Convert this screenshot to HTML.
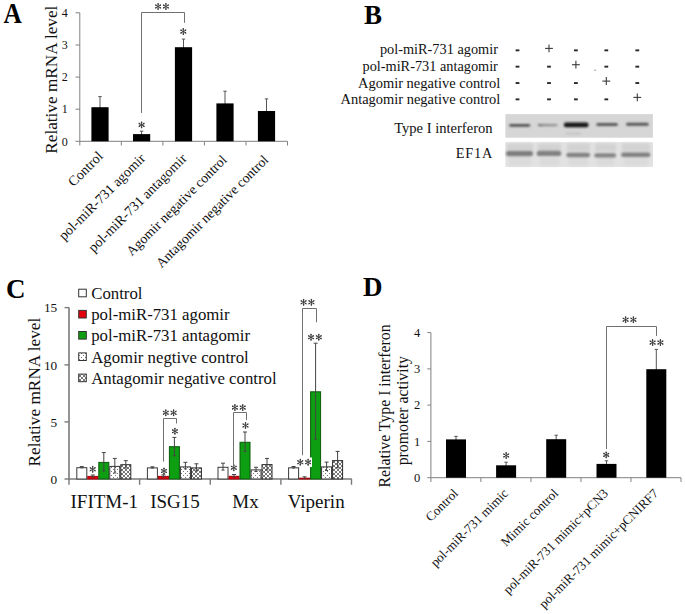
<!DOCTYPE html>
<html><head><meta charset="utf-8"><style>
html,body{margin:0;padding:0;background:#fff;}
svg{display:block;font-family:"Liberation Serif", serif;}
</style></head><body>
<svg width="685" height="614" viewBox="0 0 685 614">
<defs>
<linearGradient id="g2" x1="0" x2="1" y1="0" y2="0"><stop offset="0" stop-color="#6a6a6a"/><stop offset="0.35" stop-color="#8c8c8c"/><stop offset="1" stop-color="#959595"/></linearGradient>
<filter id="bl" x="-20%" y="-100%" width="140%" height="300%"><feGaussianBlur stdDeviation="0.9"/></filter>
<filter id="bl3" x="-20%" y="-100%" width="140%" height="300%"><feGaussianBlur stdDeviation="1.1"/></filter>
<filter id="bl2" x="-20%" y="-50%" width="140%" height="200%"><feGaussianBlur stdDeviation="1.5"/></filter>
<pattern id="dots" width="4" height="4" patternUnits="userSpaceOnUse">
<rect width="4" height="4" fill="#fff"/><rect x="1" y="1" width="1" height="1" fill="#777"/><rect x="3" y="3" width="1" height="1" fill="#777"/>
</pattern>
<pattern id="cross" width="4" height="4" patternUnits="userSpaceOnUse">
<rect width="4" height="4" fill="#fff"/><path d="M0,0 L4,4 M4,0 L0,4" stroke="#555" stroke-width="0.8"/>
</pattern>
</defs>
<rect width="685" height="614" fill="#fff"/>
<text transform="translate(3.6,22.7) scale(0.89,1)" font-size="28.5" font-weight="bold" fill="#000">A</text>
<line x1="79.8" y1="12.8" x2="79.8" y2="141.3" stroke="#808080" stroke-width="1"/>
<line x1="75.5" y1="141.3" x2="79.8" y2="141.3" stroke="#808080" stroke-width="1"/>
<text x="67.8" y="145.5" font-size="12" text-anchor="end" font-weight="normal" fill="#111" >0</text>
<line x1="75.5" y1="109.2" x2="79.8" y2="109.2" stroke="#808080" stroke-width="1"/>
<text x="67.8" y="113.4" font-size="12" text-anchor="end" font-weight="normal" fill="#111" >1</text>
<line x1="75.5" y1="77.1" x2="79.8" y2="77.1" stroke="#808080" stroke-width="1"/>
<text x="67.8" y="81.3" font-size="12" text-anchor="end" font-weight="normal" fill="#111" >2</text>
<line x1="75.5" y1="45.0" x2="79.8" y2="45.0" stroke="#808080" stroke-width="1"/>
<text x="67.8" y="49.2" font-size="12" text-anchor="end" font-weight="normal" fill="#111" >3</text>
<line x1="75.5" y1="12.8" x2="79.8" y2="12.8" stroke="#808080" stroke-width="1"/>
<text x="67.8" y="17.0" font-size="12" text-anchor="end" font-weight="normal" fill="#111" >4</text>
<line x1="79.8" y1="141.3" x2="287.5" y2="141.3" stroke="#808080" stroke-width="1"/>
<line x1="79.8" y1="141.3" x2="79.8" y2="145.5" stroke="#808080" stroke-width="1"/>
<line x1="121.34" y1="141.3" x2="121.34" y2="145.5" stroke="#808080" stroke-width="1"/>
<line x1="162.88" y1="141.3" x2="162.88" y2="145.5" stroke="#808080" stroke-width="1"/>
<line x1="204.42000000000002" y1="141.3" x2="204.42000000000002" y2="145.5" stroke="#808080" stroke-width="1"/>
<line x1="245.95999999999998" y1="141.3" x2="245.95999999999998" y2="145.5" stroke="#808080" stroke-width="1"/>
<line x1="287.5" y1="141.3" x2="287.5" y2="145.5" stroke="#808080" stroke-width="1"/>
<line x1="100.0" y1="96.6" x2="100.0" y2="108.2" stroke="#555" stroke-width="1"/>
<line x1="98.3" y1="96.6" x2="101.7" y2="96.6" stroke="#555" stroke-width="1"/>
<rect x="91.4" y="107.2" width="17.2" height="34.10000000000001" fill="#000" stroke="none" stroke-width="1"/>
<line x1="141.6" y1="131.2" x2="141.6" y2="135.1" stroke="#555" stroke-width="1"/>
<line x1="139.9" y1="131.2" x2="143.29999999999998" y2="131.2" stroke="#555" stroke-width="1"/>
<rect x="133.0" y="134.1" width="17.2" height="7.200000000000017" fill="#000" stroke="none" stroke-width="1"/>
<line x1="183.5" y1="39.1" x2="183.5" y2="48.2" stroke="#555" stroke-width="1"/>
<line x1="181.8" y1="39.1" x2="185.2" y2="39.1" stroke="#555" stroke-width="1"/>
<rect x="174.9" y="47.2" width="17.2" height="94.10000000000001" fill="#000" stroke="none" stroke-width="1"/>
<line x1="225.0" y1="91.2" x2="225.0" y2="104.4" stroke="#555" stroke-width="1"/>
<line x1="223.3" y1="91.2" x2="226.7" y2="91.2" stroke="#555" stroke-width="1"/>
<rect x="216.4" y="103.4" width="17.2" height="37.900000000000006" fill="#000" stroke="none" stroke-width="1"/>
<line x1="266.5" y1="98.9" x2="266.5" y2="112.0" stroke="#555" stroke-width="1"/>
<line x1="264.8" y1="98.9" x2="268.2" y2="98.9" stroke="#555" stroke-width="1"/>
<rect x="257.9" y="111.0" width="17.2" height="30.30000000000001" fill="#000" stroke="none" stroke-width="1"/>
<path d="M141.60,121.90L141.60,127.90M139.00,123.40L144.20,126.40M139.00,126.40L144.20,123.40" stroke="#383838" stroke-width="0.9" stroke-linecap="round" fill="none"/><circle cx="141.60" cy="127.36" r="0.8" fill="#383838"/><circle cx="141.60" cy="122.44" r="0.8" fill="#383838"/><circle cx="143.73" cy="126.13" r="0.8" fill="#383838"/><circle cx="139.47" cy="123.67" r="0.8" fill="#383838"/><circle cx="143.73" cy="123.67" r="0.8" fill="#383838"/><circle cx="139.47" cy="126.13" r="0.8" fill="#383838"/>
<path d="M183.30,28.60L183.30,34.60M180.70,30.10L185.90,33.10M180.70,33.10L185.90,30.10" stroke="#383838" stroke-width="0.9" stroke-linecap="round" fill="none"/><circle cx="183.30" cy="34.06" r="0.8" fill="#383838"/><circle cx="183.30" cy="29.14" r="0.8" fill="#383838"/><circle cx="185.43" cy="32.83" r="0.8" fill="#383838"/><circle cx="181.17" cy="30.37" r="0.8" fill="#383838"/><circle cx="185.43" cy="30.37" r="0.8" fill="#383838"/><circle cx="181.17" cy="32.83" r="0.8" fill="#383838"/>
<polyline points="141.5,113 141.5,12.5 184.5,12.5 184.5,22.8" fill="none" stroke="#707070" stroke-width="1"/>
<path d="M158.10,3.50L158.10,9.50M155.50,5.00L160.70,8.00M155.50,8.00L160.70,5.00" stroke="#383838" stroke-width="0.9" stroke-linecap="round" fill="none"/><circle cx="158.10" cy="8.96" r="0.8" fill="#383838"/><circle cx="158.10" cy="4.04" r="0.8" fill="#383838"/><circle cx="160.23" cy="7.73" r="0.8" fill="#383838"/><circle cx="155.97" cy="5.27" r="0.8" fill="#383838"/><circle cx="160.23" cy="5.27" r="0.8" fill="#383838"/><circle cx="155.97" cy="7.73" r="0.8" fill="#383838"/>
<path d="M165.90,3.50L165.90,9.50M163.30,5.00L168.50,8.00M163.30,8.00L168.50,5.00" stroke="#383838" stroke-width="0.9" stroke-linecap="round" fill="none"/><circle cx="165.90" cy="8.96" r="0.8" fill="#383838"/><circle cx="165.90" cy="4.04" r="0.8" fill="#383838"/><circle cx="168.03" cy="7.73" r="0.8" fill="#383838"/><circle cx="163.77" cy="5.27" r="0.8" fill="#383838"/><circle cx="168.03" cy="5.27" r="0.8" fill="#383838"/><circle cx="163.77" cy="7.73" r="0.8" fill="#383838"/>
<text transform="translate(103.81,157.10000000000002) rotate(-45)" font-size="14" text-anchor="end" fill="#111">Control</text>
<text transform="translate(146.01000000000002,159.3) rotate(-45)" font-size="14" text-anchor="end" fill="#111">pol-miR-731 agomir</text>
<text transform="translate(187.54999999999998,159.3) rotate(-45)" font-size="14" text-anchor="end" fill="#111">pol-miR-731 antagomir</text>
<text transform="translate(227.69,160.70000000000002) rotate(-45)" font-size="13.8" text-anchor="end" fill="#111">Agomir negative control</text>
<text transform="translate(269.23,160.70000000000002) rotate(-45)" font-size="13.8" text-anchor="end" fill="#111">Antagomir negative control</text>
<text transform="translate(57.0,79.7) rotate(-90)" font-size="17.2" text-anchor="middle" fill="#111">Relative mRNA level</text>
<text x="364" y="24.2" font-size="27" text-anchor="start" font-weight="bold" fill="#000" >B</text>
<text x="497.9" y="53.9" font-size="14.3" text-anchor="end" font-weight="normal" fill="#111" >pol-miR-731 agomir</text>
<text x="497.9" y="70.9" font-size="14.3" text-anchor="end" font-weight="normal" fill="#111" >pol-miR-731 antagomir</text>
<text x="500.2" y="87.5" font-size="14.3" text-anchor="end" font-weight="normal" fill="#111"  textLength="142.2" lengthAdjust="spacingAndGlyphs">Agomir negative control</text>
<text x="500.2" y="103.8" font-size="14.3" text-anchor="end" font-weight="normal" fill="#111"  textLength="159.7" lengthAdjust="spacingAndGlyphs">Antagomir negative control</text>
<rect x="515.6" y="49.4" width="3.8" height="1.9" fill="#2a2a2a" stroke="none" stroke-width="1"/>
<line x1="545.1" y1="48.4" x2="552.9" y2="48.4" stroke="#3a3a3a" stroke-width="1.1"/>
<line x1="549" y1="44.4" x2="549" y2="52.3" stroke="#3a3a3a" stroke-width="1.1"/>
<rect x="574.0" y="49.4" width="3.8" height="1.9" fill="#2a2a2a" stroke="none" stroke-width="1"/>
<rect x="604.4" y="49.4" width="3.8" height="1.9" fill="#2a2a2a" stroke="none" stroke-width="1"/>
<rect x="635.4" y="49.4" width="3.8" height="1.9" fill="#2a2a2a" stroke="none" stroke-width="1"/>
<rect x="515.6" y="65.7" width="3.8" height="1.9" fill="#2a2a2a" stroke="none" stroke-width="1"/>
<rect x="547.1" y="65.7" width="3.8" height="1.9" fill="#2a2a2a" stroke="none" stroke-width="1"/>
<line x1="572.0" y1="64.7" x2="579.8" y2="64.7" stroke="#3a3a3a" stroke-width="1.1"/>
<line x1="575.9" y1="60.7" x2="575.9" y2="68.60000000000001" stroke="#3a3a3a" stroke-width="1.1"/>
<rect x="604.4" y="65.7" width="3.8" height="1.9" fill="#2a2a2a" stroke="none" stroke-width="1"/>
<rect x="635.4" y="65.7" width="3.8" height="1.9" fill="#2a2a2a" stroke="none" stroke-width="1"/>
<rect x="515.6" y="82.1" width="3.8" height="1.9" fill="#2a2a2a" stroke="none" stroke-width="1"/>
<rect x="547.1" y="82.1" width="3.8" height="1.9" fill="#2a2a2a" stroke="none" stroke-width="1"/>
<rect x="574.0" y="82.1" width="3.8" height="1.9" fill="#2a2a2a" stroke="none" stroke-width="1"/>
<line x1="602.4" y1="81.1" x2="610.1999999999999" y2="81.1" stroke="#3a3a3a" stroke-width="1.1"/>
<line x1="606.3" y1="77.1" x2="606.3" y2="85.0" stroke="#3a3a3a" stroke-width="1.1"/>
<rect x="635.4" y="82.1" width="3.8" height="1.9" fill="#2a2a2a" stroke="none" stroke-width="1"/>
<rect x="515.6" y="98.4" width="3.8" height="1.9" fill="#2a2a2a" stroke="none" stroke-width="1"/>
<rect x="547.1" y="98.4" width="3.8" height="1.9" fill="#2a2a2a" stroke="none" stroke-width="1"/>
<rect x="574.0" y="98.4" width="3.8" height="1.9" fill="#2a2a2a" stroke="none" stroke-width="1"/>
<rect x="604.4" y="98.4" width="3.8" height="1.9" fill="#2a2a2a" stroke="none" stroke-width="1"/>
<line x1="633.4" y1="97.4" x2="641.1999999999999" y2="97.4" stroke="#3a3a3a" stroke-width="1.1"/>
<line x1="637.3" y1="93.4" x2="637.3" y2="101.30000000000001" stroke="#3a3a3a" stroke-width="1.1"/>
<rect x="594.5" y="69.6" width="1.2" height="1.2" fill="#777" stroke="none" stroke-width="1"/>
<rect x="505.4" y="114.1" width="147.5" height="23.6" fill="#d6d6d6" stroke="none" stroke-width="1"/>
<rect x="505.4" y="142.2" width="147.6" height="24.7" fill="#e2e2e2" stroke="none" stroke-width="1"/>
<rect x="507" y="143.5" width="26" height="8" fill="#d2d2d2" filter="url(#bl2)"/>
<rect x="509" y="157.5" width="22" height="8" fill="#dadada" filter="url(#bl2)"/>
<rect x="538" y="143.5" width="23" height="8" fill="#d2d2d2" filter="url(#bl2)"/>
<rect x="540" y="157.5" width="19" height="8" fill="#dadada" filter="url(#bl2)"/>
<rect x="567" y="143.5" width="23" height="8" fill="#d2d2d2" filter="url(#bl2)"/>
<rect x="569" y="157.5" width="19" height="8" fill="#dadada" filter="url(#bl2)"/>
<rect x="595" y="143.5" width="21" height="8" fill="#d2d2d2" filter="url(#bl2)"/>
<rect x="597" y="157.5" width="17" height="8" fill="#dadada" filter="url(#bl2)"/>
<rect x="622" y="143.5" width="28" height="8" fill="#d2d2d2" filter="url(#bl2)"/>
<rect x="624" y="157.5" width="24" height="8" fill="#dadada" filter="url(#bl2)"/>
<rect x="509.2" y="123.89999999999999" width="21.000000000000057" height="2.8" rx="1.4" fill="#505050" filter="url(#bl)"/>
<rect x="537.8" y="123.94999999999999" width="19.800000000000068" height="2.3" rx="1.15" fill="url(#g2)" filter="url(#bl)"/>
<rect x="563.8" y="122.60000000000001" width="24.800000000000068" height="4.6" rx="2.3" fill="#161616" filter="url(#bl)"/>
<rect x="596.3" y="123.1" width="21.600000000000023" height="3.0" rx="1.5" fill="#585858" filter="url(#bl)"/>
<rect x="626.0" y="122.8" width="22.700000000000045" height="3.0" rx="1.5" fill="#555555" filter="url(#bl)"/>
<rect x="566" y="132.5" width="15" height="2" fill="#c4c4c4" filter="url(#bl)"/>
<rect x="506.0" y="150.9" width="27.0" height="5.4" rx="2.7" fill="#7c7c7c" filter="url(#bl3)"/>
<rect x="536.7" y="150.8" width="24.5" height="5.2" rx="2.6" fill="#808080" filter="url(#bl3)"/>
<rect x="566.3" y="152.7" width="23.800000000000068" height="4.6" rx="2.3" fill="#808080" filter="url(#bl3)"/>
<rect x="594.3" y="153.20000000000002" width="21.800000000000068" height="4.4" rx="2.2" fill="#838383" filter="url(#bl3)"/>
<rect x="621.0" y="152.39999999999998" width="29.399999999999977" height="4.6" rx="2.3" fill="#808080" filter="url(#bl3)"/>
<text x="492.6" y="132.9" font-size="14.6" text-anchor="end" font-weight="normal" fill="#111"  textLength="98.4" lengthAdjust="spacingAndGlyphs">Type I interferon</text>
<text x="492.4" y="157.9" font-size="14.3" text-anchor="end" font-weight="normal" fill="#111"  textLength="36.6" lengthAdjust="spacing">EF1A</text>
<text x="6" y="297.7" font-size="27" text-anchor="start" font-weight="bold" fill="#000" >C</text>
<line x1="69.0" y1="307.6" x2="69.0" y2="479.8" stroke="#7a7a7a" stroke-width="1.6"/>
<line x1="64.5" y1="479.0" x2="69.0" y2="479.0" stroke="#7a7a7a" stroke-width="1.4"/>
<text x="57.2" y="483.6" font-size="13.3" text-anchor="end" font-weight="normal" fill="#111" >0</text>
<line x1="64.5" y1="421.9" x2="69.0" y2="421.9" stroke="#7a7a7a" stroke-width="1.4"/>
<text x="57.2" y="426.5" font-size="13.3" text-anchor="end" font-weight="normal" fill="#111" >5</text>
<line x1="64.5" y1="364.9" x2="69.0" y2="364.9" stroke="#7a7a7a" stroke-width="1.4"/>
<text x="57.2" y="369.5" font-size="13.3" text-anchor="end" font-weight="normal" fill="#111" >10</text>
<line x1="64.5" y1="307.6" x2="69.0" y2="307.6" stroke="#7a7a7a" stroke-width="1.4"/>
<text x="57.2" y="312.20000000000005" font-size="13.3" text-anchor="end" font-weight="normal" fill="#111" >15</text>
<line x1="69.0" y1="479.0" x2="351.8" y2="479.0" stroke="#7a7a7a" stroke-width="1.6"/>
<line x1="69.0" y1="479.0" x2="69.0" y2="484.8" stroke="#7a7a7a" stroke-width="1.4"/>
<line x1="139.625" y1="479.0" x2="139.625" y2="484.8" stroke="#7a7a7a" stroke-width="1.4"/>
<line x1="210.25" y1="479.0" x2="210.25" y2="484.8" stroke="#7a7a7a" stroke-width="1.4"/>
<line x1="280.875" y1="479.0" x2="280.875" y2="484.8" stroke="#7a7a7a" stroke-width="1.4"/>
<line x1="351.5" y1="479.0" x2="351.5" y2="484.8" stroke="#7a7a7a" stroke-width="1.4"/>
<text transform="translate(40.2,392.1) rotate(-90)" font-size="17.3" text-anchor="middle" fill="#111">Relative mRNA level</text>
<rect x="76.8" y="467.7" width="10" height="11.300000000000011" fill="#fff" stroke="#3a3a3a" stroke-width="1"/>
<line x1="81.8" y1="466.6" x2="81.8" y2="467.8" stroke="#444" stroke-width="1"/>
<line x1="79.8" y1="466.6" x2="83.8" y2="466.6" stroke="#444" stroke-width="1"/>
<line x1="80.3" y1="467.8" x2="83.3" y2="467.8" stroke="#444" stroke-width="1"/>
<rect x="87.8" y="476.4" width="10" height="2.6000000000000227" fill="#e4000e" stroke="#a00008" stroke-width="1"/>
<line x1="92.8" y1="475" x2="92.8" y2="477" stroke="#444" stroke-width="1"/>
<line x1="90.8" y1="475" x2="94.8" y2="475" stroke="#444" stroke-width="1"/>
<line x1="91.3" y1="477" x2="94.3" y2="477" stroke="#444" stroke-width="1"/>
<rect x="98.8" y="462.4" width="10" height="16.600000000000023" fill="#0e9e12" stroke="#0a5a0c" stroke-width="1"/>
<line x1="103.8" y1="452.6" x2="103.8" y2="471" stroke="#444" stroke-width="1"/>
<line x1="101.8" y1="452.6" x2="105.8" y2="452.6" stroke="#444" stroke-width="1"/>
<line x1="102.3" y1="471" x2="105.3" y2="471" stroke="#444" stroke-width="1"/>
<rect x="109.8" y="466.4" width="10" height="12.600000000000023" fill="url(#dots)" stroke="#333" stroke-width="1"/>
<line x1="114.8" y1="458.4" x2="114.8" y2="473" stroke="#444" stroke-width="1"/>
<line x1="112.8" y1="458.4" x2="116.8" y2="458.4" stroke="#444" stroke-width="1"/>
<line x1="113.3" y1="473" x2="116.3" y2="473" stroke="#444" stroke-width="1"/>
<rect x="120.8" y="464.7" width="10" height="14.300000000000011" fill="url(#cross)" stroke="#2a2a2a" stroke-width="1"/>
<line x1="125.8" y1="460.7" x2="125.8" y2="468" stroke="#444" stroke-width="1"/>
<line x1="123.8" y1="460.7" x2="127.8" y2="460.7" stroke="#444" stroke-width="1"/>
<line x1="124.3" y1="468" x2="127.3" y2="468" stroke="#444" stroke-width="1"/>
<rect x="147.4" y="467.9" width="10" height="11.100000000000023" fill="#fff" stroke="#3a3a3a" stroke-width="1"/>
<line x1="152.4" y1="466.8" x2="152.4" y2="468" stroke="#444" stroke-width="1"/>
<line x1="150.4" y1="466.8" x2="154.4" y2="466.8" stroke="#444" stroke-width="1"/>
<line x1="150.9" y1="468" x2="153.9" y2="468" stroke="#444" stroke-width="1"/>
<rect x="158.4" y="476.4" width="10" height="2.6000000000000227" fill="#e4000e" stroke="#a00008" stroke-width="1"/>
<line x1="163.4" y1="474.8" x2="163.4" y2="477" stroke="#444" stroke-width="1"/>
<line x1="161.4" y1="474.8" x2="165.4" y2="474.8" stroke="#444" stroke-width="1"/>
<line x1="161.9" y1="477" x2="164.9" y2="477" stroke="#444" stroke-width="1"/>
<rect x="169.4" y="446.7" width="10" height="32.30000000000001" fill="#0e9e12" stroke="#0a5a0c" stroke-width="1"/>
<line x1="174.4" y1="437.4" x2="174.4" y2="455.7" stroke="#444" stroke-width="1"/>
<line x1="172.4" y1="437.4" x2="176.4" y2="437.4" stroke="#444" stroke-width="1"/>
<line x1="172.9" y1="455.7" x2="175.9" y2="455.7" stroke="#444" stroke-width="1"/>
<rect x="180.4" y="466.9" width="10" height="12.100000000000023" fill="url(#dots)" stroke="#333" stroke-width="1"/>
<line x1="185.4" y1="462.3" x2="185.4" y2="468.9" stroke="#444" stroke-width="1"/>
<line x1="183.4" y1="462.3" x2="187.4" y2="462.3" stroke="#444" stroke-width="1"/>
<line x1="183.9" y1="468.9" x2="186.9" y2="468.9" stroke="#444" stroke-width="1"/>
<rect x="191.4" y="467.9" width="10" height="11.100000000000023" fill="url(#cross)" stroke="#2a2a2a" stroke-width="1"/>
<line x1="196.4" y1="463.8" x2="196.4" y2="471" stroke="#444" stroke-width="1"/>
<line x1="194.4" y1="463.8" x2="198.4" y2="463.8" stroke="#444" stroke-width="1"/>
<line x1="194.9" y1="471" x2="197.9" y2="471" stroke="#444" stroke-width="1"/>
<rect x="218.0" y="467.3" width="10" height="11.699999999999989" fill="#fff" stroke="#3a3a3a" stroke-width="1"/>
<line x1="223.0" y1="463.2" x2="223.0" y2="470.1" stroke="#444" stroke-width="1"/>
<line x1="221.0" y1="463.2" x2="225.0" y2="463.2" stroke="#444" stroke-width="1"/>
<line x1="221.5" y1="470.1" x2="224.5" y2="470.1" stroke="#444" stroke-width="1"/>
<rect x="229.0" y="476.3" width="10" height="2.6999999999999886" fill="#e4000e" stroke="#a00008" stroke-width="1"/>
<line x1="234.0" y1="474.5" x2="234.0" y2="477" stroke="#444" stroke-width="1"/>
<line x1="232.0" y1="474.5" x2="236.0" y2="474.5" stroke="#444" stroke-width="1"/>
<line x1="232.5" y1="477" x2="235.5" y2="477" stroke="#444" stroke-width="1"/>
<rect x="240.0" y="442.3" width="10" height="36.69999999999999" fill="#0e9e12" stroke="#0a5a0c" stroke-width="1"/>
<line x1="245.0" y1="432" x2="245.0" y2="451.5" stroke="#444" stroke-width="1"/>
<line x1="243.0" y1="432" x2="247.0" y2="432" stroke="#444" stroke-width="1"/>
<line x1="243.5" y1="451.5" x2="246.5" y2="451.5" stroke="#444" stroke-width="1"/>
<rect x="251.0" y="469.9" width="10" height="9.100000000000023" fill="url(#dots)" stroke="#333" stroke-width="1"/>
<line x1="256.0" y1="467.3" x2="256.0" y2="471.5" stroke="#444" stroke-width="1"/>
<line x1="254.0" y1="467.3" x2="258.0" y2="467.3" stroke="#444" stroke-width="1"/>
<line x1="254.5" y1="471.5" x2="257.5" y2="471.5" stroke="#444" stroke-width="1"/>
<rect x="262.0" y="464.6" width="10" height="14.399999999999977" fill="url(#cross)" stroke="#2a2a2a" stroke-width="1"/>
<line x1="267.0" y1="458.4" x2="267.0" y2="470" stroke="#444" stroke-width="1"/>
<line x1="265.0" y1="458.4" x2="269.0" y2="458.4" stroke="#444" stroke-width="1"/>
<line x1="265.5" y1="470" x2="268.5" y2="470" stroke="#444" stroke-width="1"/>
<rect x="288.6" y="467.8" width="10" height="11.199999999999989" fill="#fff" stroke="#3a3a3a" stroke-width="1"/>
<line x1="293.6" y1="466.5" x2="293.6" y2="468" stroke="#444" stroke-width="1"/>
<line x1="291.6" y1="466.5" x2="295.6" y2="466.5" stroke="#444" stroke-width="1"/>
<line x1="292.1" y1="468" x2="295.1" y2="468" stroke="#444" stroke-width="1"/>
<rect x="299.6" y="478.2" width="10" height="0.8000000000000114" fill="#e4000e" stroke="#a00008" stroke-width="1"/>
<line x1="304.6" y1="476.8" x2="304.6" y2="478.5" stroke="#444" stroke-width="1"/>
<line x1="302.6" y1="476.8" x2="306.6" y2="476.8" stroke="#444" stroke-width="1"/>
<rect x="310.6" y="391.8" width="10" height="87.19999999999999" fill="#0e9e12" stroke="#0a5a0c" stroke-width="1"/>
<line x1="315.6" y1="343.2" x2="315.6" y2="439.2" stroke="#444" stroke-width="1"/>
<line x1="313.6" y1="343.2" x2="317.6" y2="343.2" stroke="#444" stroke-width="1"/>
<line x1="314.1" y1="439.2" x2="317.1" y2="439.2" stroke="#444" stroke-width="1"/>
<rect x="321.6" y="466.9" width="10" height="12.100000000000023" fill="url(#dots)" stroke="#333" stroke-width="1"/>
<line x1="326.6" y1="462.1" x2="326.6" y2="470.5" stroke="#444" stroke-width="1"/>
<line x1="324.6" y1="462.1" x2="328.6" y2="462.1" stroke="#444" stroke-width="1"/>
<line x1="325.1" y1="470.5" x2="328.1" y2="470.5" stroke="#444" stroke-width="1"/>
<rect x="332.6" y="460.6" width="10" height="18.399999999999977" fill="url(#cross)" stroke="#2a2a2a" stroke-width="1"/>
<line x1="337.6" y1="451.4" x2="337.6" y2="467.8" stroke="#444" stroke-width="1"/>
<line x1="335.6" y1="451.4" x2="339.6" y2="451.4" stroke="#444" stroke-width="1"/>
<line x1="336.1" y1="467.8" x2="339.1" y2="467.8" stroke="#444" stroke-width="1"/>
<rect x="78.7" y="289.2" width="7.6" height="7.6" fill="#fff" stroke="#333" stroke-width="1"/>
<text x="91.2" y="298.9" font-size="16.8" text-anchor="start" font-weight="normal" fill="#111" >Control</text>
<rect x="78.7" y="310.4" width="7.6" height="7.6" fill="#e4000e" stroke="#333" stroke-width="1"/>
<text x="91.2" y="320.09999999999997" font-size="16.8" text-anchor="start" font-weight="normal" fill="#111" >pol-miR-731 agomir</text>
<rect x="78.7" y="331.5" width="7.6" height="7.6" fill="#0e9e12" stroke="#333" stroke-width="1"/>
<text x="91.2" y="341.2" font-size="16.8" text-anchor="start" font-weight="normal" fill="#111" >pol-miR-731 antagomir</text>
<rect x="78.7" y="352.9" width="7.6" height="7.6" fill="url(#dots)" stroke="#333" stroke-width="1"/>
<text x="91.2" y="362.59999999999997" font-size="16.8" text-anchor="start" font-weight="normal" fill="#111" >Agomir negtive control</text>
<rect x="78.7" y="374.1" width="7.6" height="7.6" fill="url(#cross)" stroke="#333" stroke-width="1"/>
<text x="91.2" y="383.8" font-size="16.8" text-anchor="start" font-weight="normal" fill="#111" >Antagomir negative control</text>
<path d="M92.70,466.30L92.70,472.30M90.10,467.80L95.30,470.80M90.10,470.80L95.30,467.80" stroke="#383838" stroke-width="0.9" stroke-linecap="round" fill="none"/><circle cx="92.70" cy="471.76" r="0.8" fill="#383838"/><circle cx="92.70" cy="466.84" r="0.8" fill="#383838"/><circle cx="94.83" cy="470.53" r="0.8" fill="#383838"/><circle cx="90.57" cy="468.07" r="0.8" fill="#383838"/><circle cx="94.83" cy="468.07" r="0.8" fill="#383838"/><circle cx="90.57" cy="470.53" r="0.8" fill="#383838"/>
<path d="M164.00,468.00L164.00,474.00M161.40,469.50L166.60,472.50M161.40,472.50L166.60,469.50" stroke="#383838" stroke-width="0.9" stroke-linecap="round" fill="none"/><circle cx="164.00" cy="473.46" r="0.8" fill="#383838"/><circle cx="164.00" cy="468.54" r="0.8" fill="#383838"/><circle cx="166.13" cy="472.23" r="0.8" fill="#383838"/><circle cx="161.87" cy="469.77" r="0.8" fill="#383838"/><circle cx="166.13" cy="469.77" r="0.8" fill="#383838"/><circle cx="161.87" cy="472.23" r="0.8" fill="#383838"/>
<path d="M174.90,428.20L174.90,434.20M172.30,429.70L177.50,432.70M172.30,432.70L177.50,429.70" stroke="#383838" stroke-width="0.9" stroke-linecap="round" fill="none"/><circle cx="174.90" cy="433.66" r="0.8" fill="#383838"/><circle cx="174.90" cy="428.74" r="0.8" fill="#383838"/><circle cx="177.03" cy="432.43" r="0.8" fill="#383838"/><circle cx="172.77" cy="429.97" r="0.8" fill="#383838"/><circle cx="177.03" cy="429.97" r="0.8" fill="#383838"/><circle cx="172.77" cy="432.43" r="0.8" fill="#383838"/>
<polyline points="163.5,461.6 163.5,418.5 176.5,418.5 176.5,423.5" fill="none" stroke="#707070" stroke-width="1"/>
<path d="M165.80,409.80L165.80,415.80M163.20,411.30L168.40,414.30M163.20,414.30L168.40,411.30" stroke="#383838" stroke-width="0.9" stroke-linecap="round" fill="none"/><circle cx="165.80" cy="415.26" r="0.8" fill="#383838"/><circle cx="165.80" cy="410.34" r="0.8" fill="#383838"/><circle cx="167.93" cy="414.03" r="0.8" fill="#383838"/><circle cx="163.67" cy="411.57" r="0.8" fill="#383838"/><circle cx="167.93" cy="411.57" r="0.8" fill="#383838"/><circle cx="163.67" cy="414.03" r="0.8" fill="#383838"/>
<path d="M173.60,409.80L173.60,415.80M171.00,411.30L176.20,414.30M171.00,414.30L176.20,411.30" stroke="#383838" stroke-width="0.9" stroke-linecap="round" fill="none"/><circle cx="173.60" cy="415.26" r="0.8" fill="#383838"/><circle cx="173.60" cy="410.34" r="0.8" fill="#383838"/><circle cx="175.73" cy="414.03" r="0.8" fill="#383838"/><circle cx="171.47" cy="411.57" r="0.8" fill="#383838"/><circle cx="175.73" cy="411.57" r="0.8" fill="#383838"/><circle cx="171.47" cy="414.03" r="0.8" fill="#383838"/>
<path d="M233.80,464.80L233.80,470.80M231.20,466.30L236.40,469.30M231.20,469.30L236.40,466.30" stroke="#383838" stroke-width="0.9" stroke-linecap="round" fill="none"/><circle cx="233.80" cy="470.26" r="0.8" fill="#383838"/><circle cx="233.80" cy="465.34" r="0.8" fill="#383838"/><circle cx="235.93" cy="469.03" r="0.8" fill="#383838"/><circle cx="231.67" cy="466.57" r="0.8" fill="#383838"/><circle cx="235.93" cy="466.57" r="0.8" fill="#383838"/><circle cx="231.67" cy="469.03" r="0.8" fill="#383838"/>
<path d="M245.50,422.50L245.50,428.50M242.90,424.00L248.10,427.00M242.90,427.00L248.10,424.00" stroke="#383838" stroke-width="0.9" stroke-linecap="round" fill="none"/><circle cx="245.50" cy="427.96" r="0.8" fill="#383838"/><circle cx="245.50" cy="423.04" r="0.8" fill="#383838"/><circle cx="247.63" cy="426.73" r="0.8" fill="#383838"/><circle cx="243.37" cy="424.27" r="0.8" fill="#383838"/><circle cx="247.63" cy="424.27" r="0.8" fill="#383838"/><circle cx="243.37" cy="426.73" r="0.8" fill="#383838"/>
<polyline points="233.5,465.7 233.5,412.5 246.5,412.5 246.5,420.1" fill="none" stroke="#707070" stroke-width="1"/>
<path d="M234.90,404.60L234.90,410.60M232.30,406.10L237.50,409.10M232.30,409.10L237.50,406.10" stroke="#383838" stroke-width="0.9" stroke-linecap="round" fill="none"/><circle cx="234.90" cy="410.06" r="0.8" fill="#383838"/><circle cx="234.90" cy="405.14" r="0.8" fill="#383838"/><circle cx="237.03" cy="408.83" r="0.8" fill="#383838"/><circle cx="232.77" cy="406.37" r="0.8" fill="#383838"/><circle cx="237.03" cy="406.37" r="0.8" fill="#383838"/><circle cx="232.77" cy="408.83" r="0.8" fill="#383838"/>
<path d="M242.70,404.60L242.70,410.60M240.10,406.10L245.30,409.10M240.10,409.10L245.30,406.10" stroke="#383838" stroke-width="0.9" stroke-linecap="round" fill="none"/><circle cx="242.70" cy="410.06" r="0.8" fill="#383838"/><circle cx="242.70" cy="405.14" r="0.8" fill="#383838"/><circle cx="244.83" cy="408.83" r="0.8" fill="#383838"/><circle cx="240.57" cy="406.37" r="0.8" fill="#383838"/><circle cx="244.83" cy="406.37" r="0.8" fill="#383838"/><circle cx="240.57" cy="408.83" r="0.8" fill="#383838"/>
<polyline points="302.5,455.3 302.5,308.5 316.5,308.5 316.5,322.3" fill="none" stroke="#707070" stroke-width="1"/>
<rect x="296" y="457.5" width="16" height="9.5" fill="#fff" stroke="none" stroke-width="1"/>
<path d="M300.30,459.20L300.30,465.20M297.70,460.70L302.90,463.70M297.70,463.70L302.90,460.70" stroke="#383838" stroke-width="0.9" stroke-linecap="round" fill="none"/><circle cx="300.30" cy="464.66" r="0.8" fill="#383838"/><circle cx="300.30" cy="459.74" r="0.8" fill="#383838"/><circle cx="302.43" cy="463.43" r="0.8" fill="#383838"/><circle cx="298.17" cy="460.97" r="0.8" fill="#383838"/><circle cx="302.43" cy="460.97" r="0.8" fill="#383838"/><circle cx="298.17" cy="463.43" r="0.8" fill="#383838"/>
<path d="M308.10,459.20L308.10,465.20M305.50,460.70L310.70,463.70M305.50,463.70L310.70,460.70" stroke="#383838" stroke-width="0.9" stroke-linecap="round" fill="none"/><circle cx="308.10" cy="464.66" r="0.8" fill="#383838"/><circle cx="308.10" cy="459.74" r="0.8" fill="#383838"/><circle cx="310.23" cy="463.43" r="0.8" fill="#383838"/><circle cx="305.97" cy="460.97" r="0.8" fill="#383838"/><circle cx="310.23" cy="460.97" r="0.8" fill="#383838"/><circle cx="305.97" cy="463.43" r="0.8" fill="#383838"/>
<path d="M311.00,334.20L311.00,340.20M308.40,335.70L313.60,338.70M308.40,338.70L313.60,335.70" stroke="#383838" stroke-width="0.9" stroke-linecap="round" fill="none"/><circle cx="311.00" cy="339.66" r="0.8" fill="#383838"/><circle cx="311.00" cy="334.74" r="0.8" fill="#383838"/><circle cx="313.13" cy="338.43" r="0.8" fill="#383838"/><circle cx="308.87" cy="335.97" r="0.8" fill="#383838"/><circle cx="313.13" cy="335.97" r="0.8" fill="#383838"/><circle cx="308.87" cy="338.43" r="0.8" fill="#383838"/>
<path d="M318.80,334.20L318.80,340.20M316.20,335.70L321.40,338.70M316.20,338.70L321.40,335.70" stroke="#383838" stroke-width="0.9" stroke-linecap="round" fill="none"/><circle cx="318.80" cy="339.66" r="0.8" fill="#383838"/><circle cx="318.80" cy="334.74" r="0.8" fill="#383838"/><circle cx="320.93" cy="338.43" r="0.8" fill="#383838"/><circle cx="316.67" cy="335.97" r="0.8" fill="#383838"/><circle cx="320.93" cy="335.97" r="0.8" fill="#383838"/><circle cx="316.67" cy="338.43" r="0.8" fill="#383838"/>
<path d="M303.60,299.30L303.60,305.30M301.00,300.80L306.20,303.80M301.00,303.80L306.20,300.80" stroke="#383838" stroke-width="0.9" stroke-linecap="round" fill="none"/><circle cx="303.60" cy="304.76" r="0.8" fill="#383838"/><circle cx="303.60" cy="299.84" r="0.8" fill="#383838"/><circle cx="305.73" cy="303.53" r="0.8" fill="#383838"/><circle cx="301.47" cy="301.07" r="0.8" fill="#383838"/><circle cx="305.73" cy="301.07" r="0.8" fill="#383838"/><circle cx="301.47" cy="303.53" r="0.8" fill="#383838"/>
<path d="M311.40,299.30L311.40,305.30M308.80,300.80L314.00,303.80M308.80,303.80L314.00,300.80" stroke="#383838" stroke-width="0.9" stroke-linecap="round" fill="none"/><circle cx="311.40" cy="304.76" r="0.8" fill="#383838"/><circle cx="311.40" cy="299.84" r="0.8" fill="#383838"/><circle cx="313.53" cy="303.53" r="0.8" fill="#383838"/><circle cx="309.27" cy="301.07" r="0.8" fill="#383838"/><circle cx="313.53" cy="301.07" r="0.8" fill="#383838"/><circle cx="309.27" cy="303.53" r="0.8" fill="#383838"/>
<text x="104.3125" y="507.8" font-size="19" text-anchor="middle" font-weight="normal" fill="#111" >IFITM-1</text>
<text x="174.9375" y="507.8" font-size="19" text-anchor="middle" font-weight="normal" fill="#111" >ISG15</text>
<text x="245.5625" y="507.8" font-size="19" text-anchor="middle" font-weight="normal" fill="#111" >Mx</text>
<text x="316.1875" y="507.8" font-size="19" text-anchor="middle" font-weight="normal" fill="#111" >Viperin</text>
<text x="363" y="295.7" font-size="27" text-anchor="start" font-weight="bold" fill="#000" >D</text>
<line x1="430.9" y1="332.6" x2="430.9" y2="477.7" stroke="#808080" stroke-width="1"/>
<line x1="427.3" y1="477.7" x2="430.9" y2="477.7" stroke="#808080" stroke-width="1"/>
<text x="420.2" y="482.0" font-size="12.5" text-anchor="end" font-weight="normal" fill="#111" >0</text>
<line x1="427.3" y1="441.4" x2="430.9" y2="441.4" stroke="#808080" stroke-width="1"/>
<text x="420.2" y="445.7" font-size="12.5" text-anchor="end" font-weight="normal" fill="#111" >1</text>
<line x1="427.3" y1="405.1" x2="430.9" y2="405.1" stroke="#808080" stroke-width="1"/>
<text x="420.2" y="409.40000000000003" font-size="12.5" text-anchor="end" font-weight="normal" fill="#111" >2</text>
<line x1="427.3" y1="368.9" x2="430.9" y2="368.9" stroke="#808080" stroke-width="1"/>
<text x="420.2" y="373.2" font-size="12.5" text-anchor="end" font-weight="normal" fill="#111" >3</text>
<line x1="427.3" y1="332.6" x2="430.9" y2="332.6" stroke="#808080" stroke-width="1"/>
<text x="420.2" y="336.90000000000003" font-size="12.5" text-anchor="end" font-weight="normal" fill="#111" >4</text>
<line x1="430.9" y1="477.7" x2="681" y2="477.7" stroke="#808080" stroke-width="1"/>
<line x1="430.9" y1="477.7" x2="430.9" y2="482" stroke="#808080" stroke-width="1"/>
<line x1="480.91999999999996" y1="477.7" x2="480.91999999999996" y2="482" stroke="#808080" stroke-width="1"/>
<line x1="530.9399999999999" y1="477.7" x2="530.9399999999999" y2="482" stroke="#808080" stroke-width="1"/>
<line x1="580.96" y1="477.7" x2="580.96" y2="482" stroke="#808080" stroke-width="1"/>
<line x1="630.98" y1="477.7" x2="630.98" y2="482" stroke="#808080" stroke-width="1"/>
<line x1="681.0" y1="477.7" x2="681.0" y2="482" stroke="#808080" stroke-width="1"/>
<line x1="456.0" y1="436.4" x2="456.0" y2="440.4" stroke="#555" stroke-width="1"/>
<line x1="454.3" y1="436.4" x2="457.7" y2="436.4" stroke="#555" stroke-width="1"/>
<rect x="446.0" y="439.4" width="20" height="38.30000000000001" fill="#000" stroke="none" stroke-width="1"/>
<line x1="506.1" y1="462.2" x2="506.1" y2="466.3" stroke="#555" stroke-width="1"/>
<line x1="504.40000000000003" y1="462.2" x2="507.8" y2="462.2" stroke="#555" stroke-width="1"/>
<rect x="496.1" y="465.3" width="20" height="12.399999999999977" fill="#000" stroke="none" stroke-width="1"/>
<line x1="556.2" y1="435.2" x2="556.2" y2="440.2" stroke="#555" stroke-width="1"/>
<line x1="554.5" y1="435.2" x2="557.9000000000001" y2="435.2" stroke="#555" stroke-width="1"/>
<rect x="546.2" y="439.2" width="20" height="38.5" fill="#000" stroke="none" stroke-width="1"/>
<line x1="606.5" y1="460.8" x2="606.5" y2="464.9" stroke="#555" stroke-width="1"/>
<line x1="604.8" y1="460.8" x2="608.2" y2="460.8" stroke="#555" stroke-width="1"/>
<rect x="596.5" y="463.9" width="20" height="13.800000000000011" fill="#000" stroke="none" stroke-width="1"/>
<line x1="656.3" y1="349.4" x2="656.3" y2="370.2" stroke="#555" stroke-width="1"/>
<line x1="654.5999999999999" y1="349.4" x2="658.0" y2="349.4" stroke="#555" stroke-width="1"/>
<rect x="646.3" y="369.2" width="20" height="108.5" fill="#000" stroke="none" stroke-width="1"/>
<path d="M506.20,452.50L506.20,458.50M503.60,454.00L508.80,457.00M503.60,457.00L508.80,454.00" stroke="#383838" stroke-width="0.9" stroke-linecap="round" fill="none"/><circle cx="506.20" cy="457.96" r="0.8" fill="#383838"/><circle cx="506.20" cy="453.04" r="0.8" fill="#383838"/><circle cx="508.33" cy="456.73" r="0.8" fill="#383838"/><circle cx="504.07" cy="454.27" r="0.8" fill="#383838"/><circle cx="508.33" cy="454.27" r="0.8" fill="#383838"/><circle cx="504.07" cy="456.73" r="0.8" fill="#383838"/>
<path d="M606.20,451.90L606.20,457.90M603.60,453.40L608.80,456.40M603.60,456.40L608.80,453.40" stroke="#383838" stroke-width="0.9" stroke-linecap="round" fill="none"/><circle cx="606.20" cy="457.36" r="0.8" fill="#383838"/><circle cx="606.20" cy="452.44" r="0.8" fill="#383838"/><circle cx="608.33" cy="456.13" r="0.8" fill="#383838"/><circle cx="604.07" cy="453.67" r="0.8" fill="#383838"/><circle cx="608.33" cy="453.67" r="0.8" fill="#383838"/><circle cx="604.07" cy="456.13" r="0.8" fill="#383838"/>
<polyline points="606.5,449.1 606.5,326.5 656.5,326.5 656.5,335.9" fill="none" stroke="#707070" stroke-width="1"/>
<path d="M625.60,316.70L625.60,322.70M623.00,318.20L628.20,321.20M623.00,321.20L628.20,318.20" stroke="#383838" stroke-width="0.9" stroke-linecap="round" fill="none"/><circle cx="625.60" cy="322.16" r="0.8" fill="#383838"/><circle cx="625.60" cy="317.24" r="0.8" fill="#383838"/><circle cx="627.73" cy="320.93" r="0.8" fill="#383838"/><circle cx="623.47" cy="318.47" r="0.8" fill="#383838"/><circle cx="627.73" cy="318.47" r="0.8" fill="#383838"/><circle cx="623.47" cy="320.93" r="0.8" fill="#383838"/>
<path d="M633.40,316.70L633.40,322.70M630.80,318.20L636.00,321.20M630.80,321.20L636.00,318.20" stroke="#383838" stroke-width="0.9" stroke-linecap="round" fill="none"/><circle cx="633.40" cy="322.16" r="0.8" fill="#383838"/><circle cx="633.40" cy="317.24" r="0.8" fill="#383838"/><circle cx="635.53" cy="320.93" r="0.8" fill="#383838"/><circle cx="631.27" cy="318.47" r="0.8" fill="#383838"/><circle cx="635.53" cy="318.47" r="0.8" fill="#383838"/><circle cx="631.27" cy="320.93" r="0.8" fill="#383838"/>
<path d="M652.60,339.60L652.60,345.60M650.00,341.10L655.20,344.10M650.00,344.10L655.20,341.10" stroke="#383838" stroke-width="0.9" stroke-linecap="round" fill="none"/><circle cx="652.60" cy="345.06" r="0.8" fill="#383838"/><circle cx="652.60" cy="340.14" r="0.8" fill="#383838"/><circle cx="654.73" cy="343.83" r="0.8" fill="#383838"/><circle cx="650.47" cy="341.37" r="0.8" fill="#383838"/><circle cx="654.73" cy="341.37" r="0.8" fill="#383838"/><circle cx="650.47" cy="343.83" r="0.8" fill="#383838"/>
<path d="M660.40,339.60L660.40,345.60M657.80,341.10L663.00,344.10M657.80,344.10L663.00,341.10" stroke="#383838" stroke-width="0.9" stroke-linecap="round" fill="none"/><circle cx="660.40" cy="345.06" r="0.8" fill="#383838"/><circle cx="660.40" cy="340.14" r="0.8" fill="#383838"/><circle cx="662.53" cy="343.83" r="0.8" fill="#383838"/><circle cx="658.27" cy="341.37" r="0.8" fill="#383838"/><circle cx="662.53" cy="341.37" r="0.8" fill="#383838"/><circle cx="658.27" cy="343.83" r="0.8" fill="#383838"/>
<text transform="translate(458.90999999999997,494.2) rotate(-45)" font-size="13" text-anchor="end" fill="#111">Control</text>
<text transform="translate(508.92999999999995,494.2) rotate(-45)" font-size="13" text-anchor="end" fill="#111">pol-miR-731 mimic</text>
<text transform="translate(558.95,494.2) rotate(-45)" font-size="13" text-anchor="end" fill="#111">Mimic control</text>
<text transform="translate(608.97,494.2) rotate(-45)" font-size="13" text-anchor="end" fill="#111">pol-miR-731 mimic+pCN3</text>
<text transform="translate(658.99,494.2) rotate(-45)" font-size="13" text-anchor="end" fill="#111">pol-miR-731 mimic+pCNIRF7</text>
<text transform="translate(390.2,405.9) rotate(-90)" font-size="15.8" text-anchor="middle" fill="#111">Relative Type I interferon</text>
<text transform="translate(408,410.7) rotate(-90)" font-size="15.8" text-anchor="middle" fill="#111">promoter activity</text>
</svg>
</body></html>
